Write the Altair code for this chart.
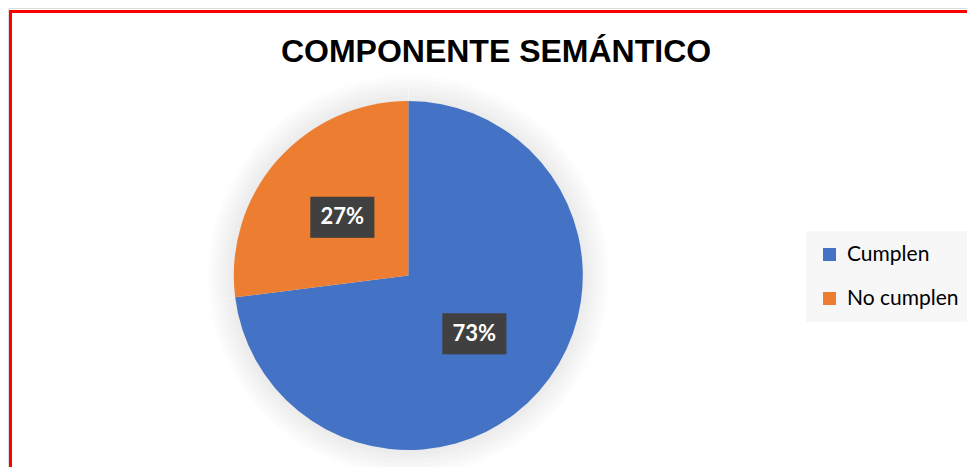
import altair as alt
import pandas as pd

# ---- data ----
categorias = ["Cumplen", "No cumplen"]
valores = [73, 27]
etiquetas = ["73%", "27%"]
orden = [1, 2]
colores = ["#4472C4", "#ED7D31"]
titulo = "COMPONENTE SEMÁNTICO"

df = pd.DataFrame({"categoria": categorias, "valor": valores,
                   "etiqueta": etiquetas, "orden": orden})

# ---- layout (pixels, relative to the plot origin) ----
W, H = 959, 459
CX, CY = 400.3, 267.5      # pie centre
R = 174.5                  # pie radius
RL = 88                    # label radius
BW, BH = 64, 41            # label box size

base = alt.Chart(df)

# soft glow around the pie
glow = [
    base.mark_arc(radius=r, color="#000000", opacity=0.011).encode(
        theta=alt.Theta("valor:Q", stack=True),
        order=alt.Order("orden:Q"),
        x=alt.value(CX), y=alt.value(CY))
    for r in [176, 180, 184, 188, 192, 196, 200]
]

pie = base.mark_arc(radius=R, stroke=None).encode(
    theta=alt.Theta("valor:Q", stack=True),
    order=alt.Order("orden:Q"),
    x=alt.value(CX), y=alt.value(CY),
    color=alt.Color(
        "categoria:N",
        scale=alt.Scale(domain=categorias, range=colores),
        legend=alt.Legend(
            title=None, orient="none", legendX=798, legendY=223,
            fillColor="#f7f7f7", padding=13, symbolType="square",
            symbolSize=169, symbolStrokeWidth=0, labelFont="Lato",
            labelFontSize=21, labelColor="#000000", rowPadding=22,
            labelOffset=7, labelLimit=300)),
)

pos = base.transform_joinaggregate(
    total="sum(valor)"
).transform_window(
    cum="sum(valor)", sort=[alt.SortField("orden")], frame=[None, 0]
).transform_calculate(
    ang="(datum.cum - datum.valor/2) / datum.total * 2 * PI",
).transform_calculate(
    lx=f"{CX} + {RL} * sin(datum.ang)",
    ly=f"{CY} - {RL} * cos(datum.ang)",
).transform_calculate(
    x1=f"datum.lx - {BW/2}", x2=f"datum.lx + {BW/2}",
    y1=f"datum.ly - {BH/2}", y2=f"datum.ly + {BH/2}",
)

shadow = pos.mark_rect(color="#000000", opacity=0.3, xOffset=4, yOffset=4).encode(
    x=alt.X("x1:Q", scale=None), x2="x2:Q",
    y=alt.Y("y1:Q", scale=None), y2="y2:Q")

box = pos.mark_rect(color="#404040").encode(
    x=alt.X("x1:Q", scale=None), x2="x2:Q",
    y=alt.Y("y1:Q", scale=None), y2="y2:Q")

labels = pos.mark_text(font="Lato", fontSize=22, fontWeight="bold",
                       color="white", baseline="middle", align="center").encode(
    x=alt.X("lx:Q", scale=None), y=alt.Y("ly:Q", scale=None),
    text="etiqueta:N")

# red frame (only top and left edges are visible in the reference)
left_edge = base.mark_rule(color="#FF0000", strokeWidth=3).encode(
    x=alt.value(2.5), y=alt.value(2), y2=alt.value(H))
top_edge = base.mark_rule(color="#FF0000", strokeWidth=3).encode(
    x=alt.value(1), x2=alt.value(W), y=alt.value(3.5))

chart = alt.layer(
    *glow, pie, shadow, box, labels, left_edge, top_edge
).properties(
    width=W, height=H, padding=0,
    autosize=alt.AutoSizeParams(type="none"),
    title=alt.TitleParams(
        text=titulo, font="Liberation Sans", fontSize=32, fontWeight="bold",
        color="#000000", anchor="middle", frame="group", offset=-86,
        baseline="alphabetic", dx=8.5),
).configure_view(stroke=None).configure(background="white")

chart.save("out.html", embed_options={"renderer": "svg", "actions": False})
